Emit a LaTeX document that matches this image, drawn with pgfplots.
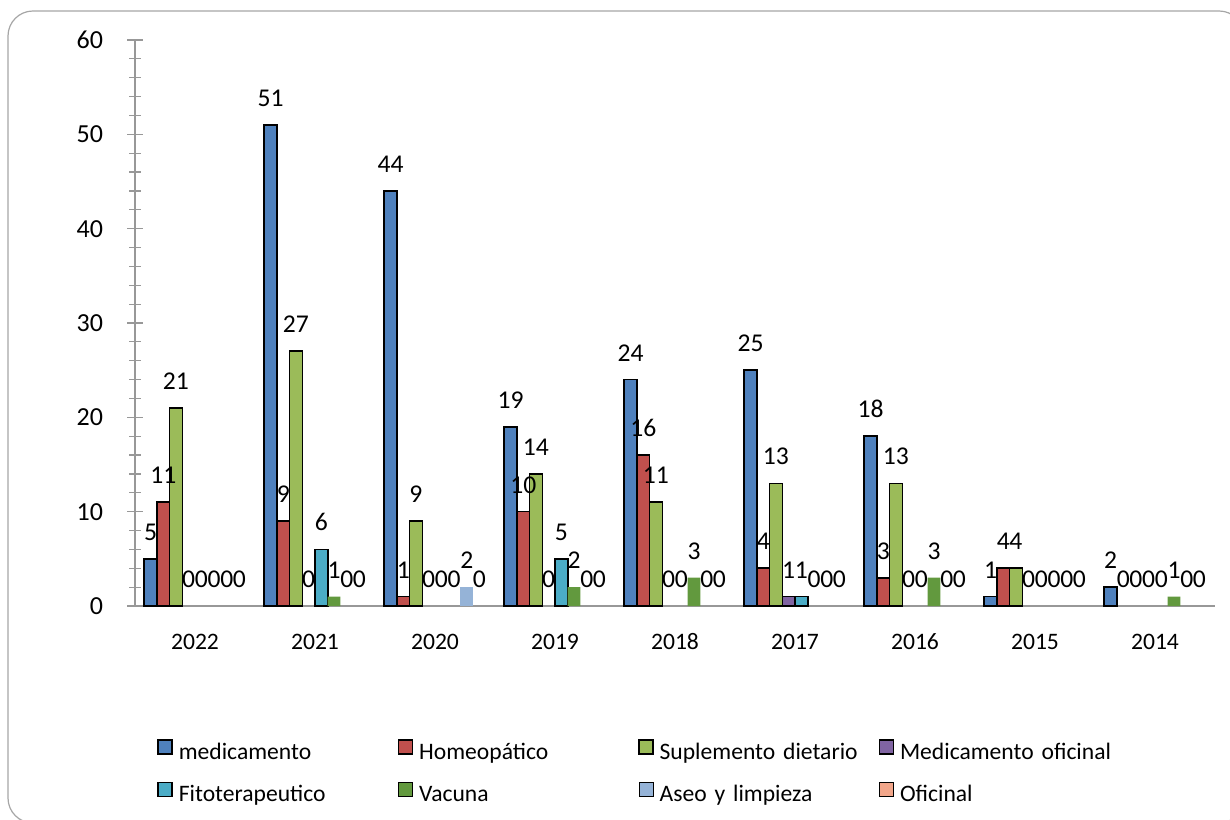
\documentclass[border=0pt]{standalone}
\usepackage{pgfplots}
\pgfplotsset{compat=1.18}
\usepackage{pgfplotstable}
\usepackage{fontspec}
\setmainfont{Carlito}

\definecolor{cMed}{HTML}{4F81BD}
\definecolor{cHom}{HTML}{C0504D}
\definecolor{cSup}{HTML}{9BBB59}
\definecolor{cMof}{HTML}{8064A2}
\definecolor{cFit}{HTML}{4BACC6}
\definecolor{cVac}{HTML}{62993E}
\definecolor{cAse}{HTML}{95B3D7}
\definecolor{cOfi}{HTML}{F2A68A}
\definecolor{framegray}{HTML}{A6A6A6}
\definecolor{axisgray}{HTML}{989898}

\pgfplotsset{/pgf/number format/assume math mode=true}

% registros por año y tipo de producto
\pgfplotstableread{
x year s1 s2 s3 s4 s5 s6 s7 s8
0 2022 5 11 21 0 0 0 0 0
1 2021 51 9 27 0 6 1 0 0
2 2020 44 1 9 0 0 0 2 0
3 2019 19 10 14 0 5 2 0 0
4 2018 24 16 11 0 0 3 0 0
5 2017 25 4 13 1 1 0 0 0
6 2016 18 3 13 0 0 3 0 0
7 2015 1 4 4 0 0 0 0 0
8 2014 2 0 0 0 0 1 0 0
}\datatable

% #1 column, #2 bar shift, #3 bar style
\newcommand{\serie}[3]{%
  \addplot[ybar, bar shift=#2, #3, forget plot, restrict y to domain=0.5:100]
    table[x=x, y=#1]{\datatable};
  \addplot[ybar, bar shift=#2, draw=none, fill=none, forget plot, nodes near coords,
    every node near coord/.append style={xshift=#2}]
    table[x=x, y=#1]{\datatable};
}

\begin{document}
\begin{tikzpicture}
\useasboundingbox (0,0) rectangle (615pt,409.5pt);
\clip (0,0) rectangle (615pt,409.5pt);
\draw[framegray, line width=0.6pt, rounded corners=12.5pt] (4pt,-2pt) rectangle (622pt,404pt);
\begin{axis}[
  at={(67.5pt,106.5pt)}, anchor=south west,
  scale only axis, width=540pt, height=283pt,
  xmin=-0.5, xmax=8.5, ymin=0, ymax=60,
  axis x line*=bottom, axis y line*=left,
  axis line style={axisgray, line width=0.6pt, -},
  x axis line style={shorten <=-4pt},
  xtick={0,...,8},
  xticklabels={2022,2021,2020,2019,2018,2017,2016,2015,2014},
  xtick style={draw=none},
  ytick={0,10,...,60}, minor y tick num=4,
  ytick style={axisgray, line width=0.6pt},
  minor y tick style={axisgray, line width=0.6pt},
  tick align=center, major tick length=8pt, minor tick length=6pt,
  bar width=6.35pt,
  xticklabel style={font=\fontsize{11.8}{13}\selectfont, text height=8pt, text depth=0pt, yshift=-6pt},
  yticklabel style={font=\fontsize{13}{15}\selectfont, xshift=-8.5pt},
  every node near coord/.append style={font=\fontsize{12.8}{15}\selectfont, anchor=south, inner sep=0pt, yshift=9pt, text=black},
  legend columns=4, legend cell align=left,
  legend image code/.code={\draw[#1] (0pt,0pt) rectangle (7pt,7pt);},
  legend style={at={(0.0204,-0.235)}, anchor=north west, draw=none, fill=none,
    inner sep=0pt, row sep=8.5pt, column sep=0pt,
    font=\fontsize{11.8}{14}\selectfont,
    nodes={inner xsep=3pt, inner ysep=0pt, text width=106.5pt,
      text height=8pt, text depth=2.5pt, align=left}},
]
\addlegendimage{fill=cMed, draw=black, line width=0.7pt}
\addlegendentry{medicamento}
\addlegendimage{fill=cHom, draw=black, line width=0.7pt}
\addlegendentry{Homeopático}
\addlegendimage{fill=cSup, draw=black, line width=0.7pt}
\addlegendentry{Suplemento dietario}
\addlegendimage{fill=cMof, draw=black, line width=0.7pt}
\addlegendentry{Medicamento oficinal}
\addlegendimage{fill=cFit, draw=black, line width=0.7pt}
\addlegendentry{Fitoterapeutico}
\addlegendimage{fill=cVac, draw=none}
\addlegendentry{Vacuna}
\addlegendimage{fill=cAse, draw=none}
\addlegendentry{Aseo y limpieza}
\addlegendimage{fill=cOfi, draw=none}
\addlegendentry{Oficinal}

\serie{s1}{-22.225pt}{fill=cMed, draw=black, line width=0.8pt}
\serie{s2}{-15.875pt}{fill=cHom, draw=black, line width=0.8pt}
\serie{s3}{-9.525pt}{fill=cSup, draw=black, line width=0.8pt}
\serie{s4}{-3.175pt}{fill=cMof, draw=black, line width=0.8pt}
\serie{s5}{3.175pt}{fill=cFit, draw=black, line width=0.8pt}
\serie{s6}{9.525pt}{fill=cVac, draw=none}
\serie{s7}{15.875pt}{fill=cAse, draw=none}
\serie{s8}{22.225pt}{fill=cOfi, draw=none}
\end{axis}
\end{tikzpicture}
\end{document}
